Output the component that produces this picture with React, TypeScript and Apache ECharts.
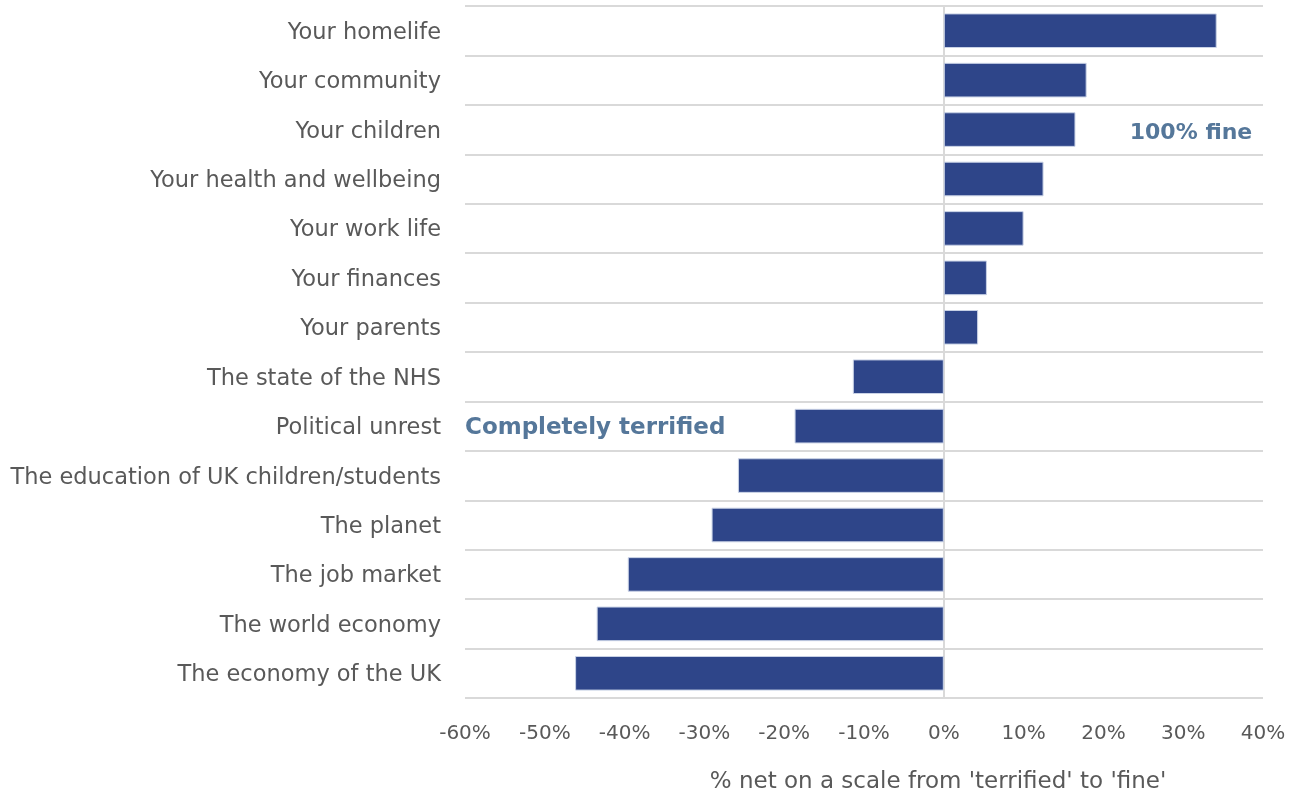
import React, { useEffect, useRef } from "react";
import * as echarts from "echarts";

const categories = [
  "Your homelife",
  "Your community",
  "Your children",
  "Your health and wellbeing",
  "Your work life",
  "Your finances",
  "Your parents",
  "The state of the NHS",
  "Political unrest",
  "The education of UK children/students",
  "The planet",
  "The job market",
  "The world economy",
  "The economy of the UK",
];
const values = [34.2, 17.9, 16.5, 12.5, 10.0, 5.4, 4.3, -11.4, -18.7, -25.8, -29.1, -39.6, -43.5, -46.2];
const xMin = -60;
const xMax = 40;
const xStep = 10;
const axisTitle = "% net on a scale from 'terrified' to 'fine'";
const noteFine = "100% fine";
const noteTerrified = "Completely terrified";

const FONT = "'DejaVu Sans', sans-serif";

export default function App() {
  const ref = useRef<HTMLDivElement>(null);
  useEffect(() => {
    if (!ref.current) return;
    const chart = echarts.init(ref.current, undefined, { renderer: "svg" });
    chart.setOption({
      animation: false,
      textStyle: { fontFamily: FONT },
      grid: { left: 465, right: 30, top: 6, bottom: 95 },
      xAxis: {
        type: "value",
        min: xMin,
        max: xMax,
        interval: xStep,
        axisLine: { show: false },
        axisTick: { show: false },
        splitLine: { show: false },
        axisLabel: {
          formatter: (v: number) => `${v}%`,
          color: "#595959",
          fontSize: 20,
          fontFamily: FONT,
          margin: 24,
        },
      },
      yAxis: {
        type: "category",
        data: categories,
        inverse: true,
        axisLine: { show: true, onZero: true, lineStyle: { color: "#d9d9d9", width: 2 } },
        axisTick: { show: false },
        splitLine: { show: true, lineStyle: { color: "#d9d9d9", width: 2 } },
        axisLabel: {
          color: "#595959",
          fontSize: 22.5,
          fontFamily: FONT,
          margin: 24,
          interval: 0,
        },
      },
      series: [
        {
          type: "bar",
          data: values,
          barCategoryGap: "30%",
          itemStyle: { color: "#2e4589", borderColor: "#c9d2e6", borderWidth: 1 },
        },
      ],
      graphic: [
        {
          type: "text",
          x: 938,
          y: 780,
          style: {
            text: axisTitle,
            fill: "#595959",
            font: `23px ${FONT}`,
            textAlign: "center",
            textVerticalAlign: "middle",
          },
        },
        {
          type: "text",
          x: 1191,
          y: 131,
          style: {
            text: noteFine,
            fill: "#55779a",
            font: `bold 22px ${FONT}`,
            textAlign: "center",
            textVerticalAlign: "middle",
          },
        },
        {
          type: "text",
          x: 465,
          y: 426,
          style: {
            text: noteTerrified,
            fill: "#55779a",
            font: `bold 23px ${FONT}`,
            textAlign: "left",
            textVerticalAlign: "middle",
          },
        },
      ],
    });
    return () => chart.dispose();
  }, []);
  return (
    <div
      ref={ref}
      style={{ position: "fixed", left: 0, top: 0, width: 1293, height: 793 }}
    />
  );
}
